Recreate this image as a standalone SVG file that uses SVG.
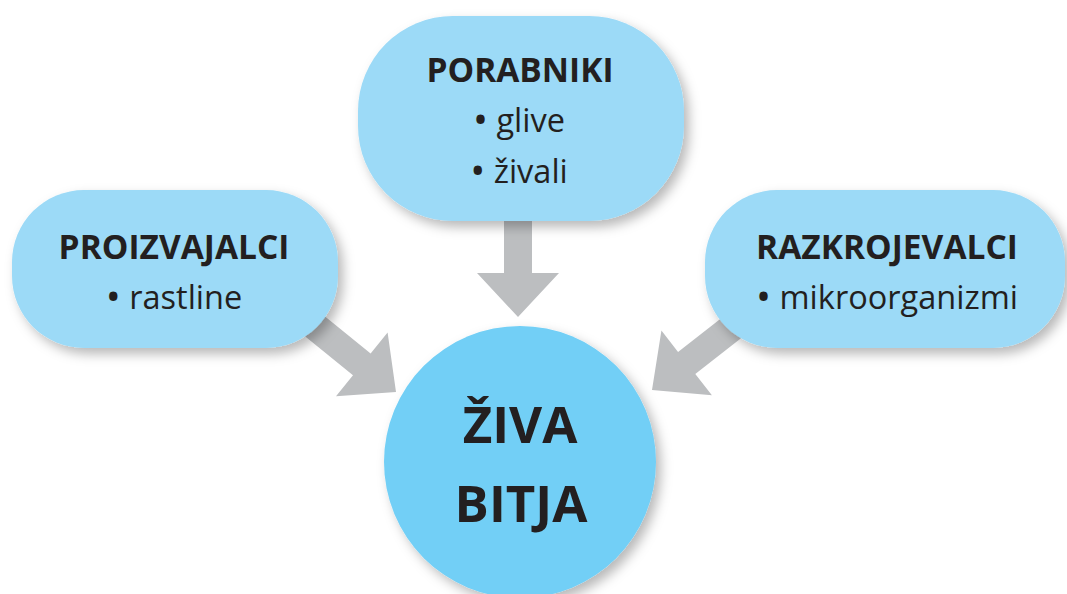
<svg xmlns="http://www.w3.org/2000/svg" width="1067" height="594" viewBox="0 0 1067 594">
  <defs>
    <filter id="sh" x="-20%" y="-20%" width="150%" height="150%">
      <feDropShadow dx="5" dy="6" stdDeviation="6" flood-color="#000" flood-opacity="0.28"/>
    </filter>
    <path id="arr" d="M-130,-14 H-44 V-41 L0,0 L-44,41 V14 H-130 Z"/>
  </defs>
  <style>
    .box { fill: #9cdaf7; filter: url(#sh); }
    .circ { fill: #72cff6; filter: url(#sh); }
    .arrow { fill: #bcbec0; }
    .t { font-family: "Open Sans", "Liberation Sans", sans-serif; fill: #231f20; text-anchor: middle; }
    .h { font-weight: bold; font-size: 33.5px; }
    .i { font-size: 32.5px; }
    .b { font-size: 40px; }
    .big { font-weight: bold; font-size: 51px; }
  </style>
  <rect width="1067" height="594" fill="#ffffff"/>
  <g id="connectors">
    <use href="#arr" class="arrow" transform="translate(518,317) rotate(90)"/>
    <use href="#arr" class="arrow" transform="translate(396,392) rotate(39)"/>
    <use href="#arr" class="arrow" transform="translate(652,390) rotate(142)"/>
  </g>
  <g id="proizvajalci">
    <rect class="box" x="12" y="190" width="326" height="158" rx="72" ry="72"/>
    <text class="t h" x="174" y="259">PROIZVAJALCI</text>
    <text class="t i" x="174" y="309"><tspan class="b" dy="2">•</tspan><tspan dy="-2"> rastline</tspan></text>
  </g>
  <g id="porabniki">
    <rect class="box" x="358" y="16" width="326" height="205" rx="95" ry="95"/>
    <text class="t h" x="520" y="82">PORABNIKI</text>
    <text class="t i" x="519" y="132"><tspan class="b" dy="2">•</tspan><tspan dy="-2"> glive</tspan></text>
    <text class="t i" x="519" y="183"><tspan class="b" dy="2">•</tspan><tspan dy="-2"> živali</tspan></text>
  </g>
  <g id="razkrojevalci">
    <rect class="box" x="705" y="190" width="360" height="158" rx="72" ry="72"/>
    <text class="t h" x="887" y="259">RAZKROJEVALCI</text>
    <text class="t i" x="887" y="309"><tspan class="b" dy="2">•</tspan><tspan dy="-2"> mikroorganizmi</tspan></text>
  </g>
  <g id="ziva-bitja">
    <circle class="circ" cx="520" cy="462" r="136"/>
    <text class="t big" x="520" y="443">ŽIVA</text>
    <text class="t big" x="521" y="522">BITJA</text>
  </g>
</svg>
